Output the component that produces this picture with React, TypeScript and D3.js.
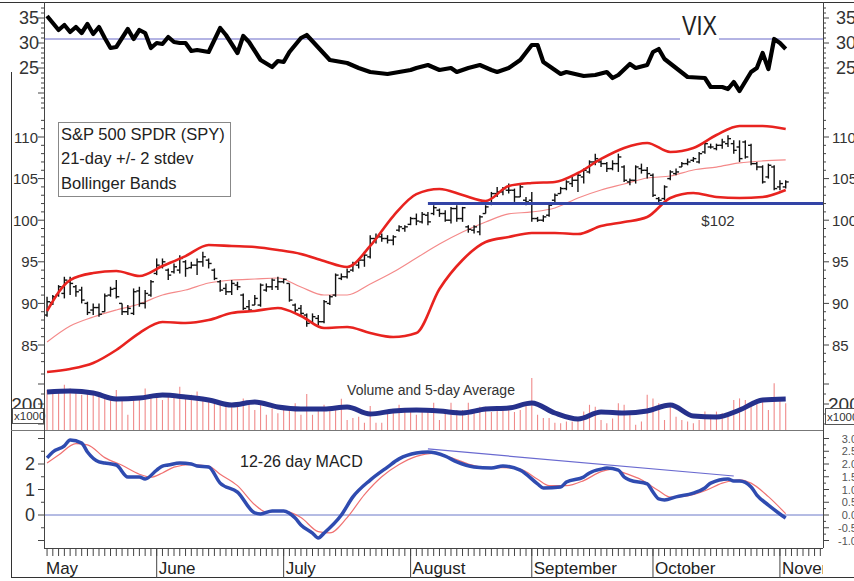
import React from 'react';
import * as d3 from 'd3';

// ---------- DATA ----------
const monthNames = ['May', 'June', 'July', 'August', 'September', 'October', 'November'];
const monthStart = [0, 20, 42, 64, 85, 106, 128];

const spyOpen = [88.6,90.1,91.0,91.2,92.6,92.0,91.6,90.0,89.2,89.5,89.0,91.0,91.8,90.0,89.0,88.8,91.5,90.0,91.0,93.6,94.4,94.0,93.8,94.0,95.0,94.3,94.6,95.0,95.2,94.0,92.6,91.8,91.4,92.2,91.0,89.6,89.8,89.8,91.6,92.0,92.0,92.6,92.4,89.8,89.4,88.6,87.8,88.2,87.8,90.0,91.0,93.0,93.2,94.0,94.6,95.2,95.6,97.8,98.0,97.8,97.6,98.8,99.0,99.5,100.2,99.8,100.6,100.8,101.2,100.8,100.0,101.4,100.2,99.2,98.8,98.6,100.8,102.0,103.2,103.4,103.6,103.6,102.8,102.4,102.4,100.2,100.0,100.6,102.4,103.2,103.8,104.4,104.8,105.2,105.8,107.0,107.0,106.8,106.2,106.8,106.4,104.6,104.8,106.2,106.0,105.4,102.6,102.6,105.0,105.6,106.4,106.8,107.2,107.0,108.2,108.8,108.6,109.0,109.2,109.2,108.8,109.4,109.0,106.8,106.4,105.2,106.4,104.0,104.0];
const spyHigh = [90.8,91.0,92.2,93.2,93.2,92.2,92.0,90.2,90.0,90.0,91.2,92.0,92.8,90.0,89.8,91.8,92.0,91.6,92.8,95.4,95.4,94.2,94.8,95.8,95.2,95.0,95.4,96.2,95.4,94.2,92.8,92.4,92.8,92.6,91.2,90.4,91.0,92.4,92.4,93.0,93.2,93.0,92.4,90.0,89.8,88.8,88.8,88.6,90.4,91.0,93.6,93.6,94.2,95.0,95.4,96.2,98.2,98.4,98.4,98.2,98.2,99.4,99.4,100.4,100.8,101.0,101.0,101.8,101.4,101.2,101.6,101.8,101.6,99.4,99.4,100.6,101.8,103.4,104.0,104.0,104.4,103.8,104.4,102.8,103.4,100.4,100.6,102.0,103.2,104.0,104.8,105.2,105.6,106.2,107.2,108.0,107.2,107.0,107.2,108.0,106.6,105.0,106.6,106.8,106.4,105.6,102.8,104.2,106.0,106.2,107.0,107.4,107.6,108.2,109.4,109.2,109.2,109.8,110.2,109.6,109.6,109.6,109.2,107.0,106.6,106.8,106.6,104.8,104.8];
const spyLow = [88.4,89.8,90.8,90.6,91.0,90.8,90.0,88.6,88.6,88.4,89.0,90.8,90.6,88.6,88.6,88.6,89.6,89.4,90.8,93.4,94.2,92.8,93.6,93.6,93.2,94.2,93.4,94.4,94.2,92.8,91.4,91.0,91.0,91.6,89.2,89.0,89.8,89.6,91.4,91.6,91.6,92.4,90.2,88.8,88.6,87.2,87.6,87.4,87.6,89.8,90.8,92.8,93.0,93.8,94.2,94.4,95.4,97.2,97.4,97.2,97.0,98.6,98.6,99.4,99.4,99.6,99.4,100.6,100.4,99.8,99.6,99.8,99.8,98.5,98.4,98.2,100.8,101.8,102.8,103.0,103.2,102.2,102.8,101.8,99.8,99.8,99.8,100.4,102.2,103.2,103.6,104.0,103.4,104.4,105.6,106.6,106.4,105.8,106.0,105.8,104.6,104.2,104.4,105.6,105.0,102.8,102.0,102.4,104.8,105.4,106.4,106.6,107.0,106.8,108.0,108.6,108.4,108.6,108.8,108.0,107.0,107.4,106.6,106.0,104.4,105.0,103.6,103.6,103.8];
const spyClose = [90.2,90.8,92.0,92.8,92.4,91.4,90.4,88.9,89.5,88.7,90.9,91.7,90.8,89.0,89.4,91.4,90.0,91.2,92.6,94.6,95.0,93.4,94.4,95.4,94.2,94.6,95.0,95.6,94.8,93.0,91.6,91.4,92.4,92.0,89.4,89.2,90.6,92.2,92.0,92.8,92.6,92.9,90.4,89.2,88.8,87.6,88.4,87.8,90.2,90.8,93.4,93.2,93.8,94.8,95.2,95.8,97.8,98.0,97.8,97.6,98.0,99.2,99.2,100.2,99.9,100.7,99.8,101.5,100.8,100.0,101.4,100.2,101.5,98.9,99.2,100.4,101.6,103.2,103.4,103.8,103.6,102.8,104.0,102.2,100.2,100.0,100.4,101.8,103.0,103.8,104.6,104.8,105.4,106.0,107.0,107.4,106.8,106.2,106.8,107.6,104.8,104.8,106.4,106.0,105.6,103.0,102.4,104.0,105.8,105.8,106.8,107.0,107.4,108.0,109.2,108.8,109.0,109.4,109.8,108.4,107.4,107.6,106.8,106.4,104.6,106.6,103.8,104.4,104.6];

const bandDays = [0,4,8,12,16,20,24,28,32,36,40,44,48,52,56,60,64,68,72,76,80,84,88,92,96,100,104,108,112,116,120,124,128];
const upperBand = [89.09,92.81,93.65,93.89,93.29,94.49,95.69,97.02,96.9,96.78,96.42,95.94,95.1,94.38,96.9,100.5,103.13,103.75,103.03,102.31,104.11,104.47,104.59,105.67,107.36,108.68,109.28,108.2,108.68,110.24,111.32,111.32,110.96];
const middleBand = [85.36,87.28,88.37,89.21,89.93,91.01,91.61,92.45,92.81,92.93,93.05,91.97,91.01,91.01,92.33,93.77,95.46,97.14,98.58,99.78,100.75,100.99,101.47,102.67,103.63,104.35,105.07,105.31,106.03,106.39,106.88,107.12,107.24];
const lowerBand = [81.75,82.12,82.84,84.4,86.44,87.76,87.64,88.0,88.85,89.09,89.45,88.49,87.04,87.16,86.44,85.96,86.44,91.73,95.22,97.38,97.98,98.46,98.46,98.34,99.3,99.78,100.38,102.67,103.27,102.79,102.67,102.79,103.63];
const volumeAvg = [230,232.5,227.5,212.5,215,222.5,217.5,210,197.5,205,192.5,187.5,187.5,192.5,175,182.5,185,182.5,177.5,187.5,190,202.5,177.5,162.5,180,177.5,182.5,197.5,170,167.5,185,210,212.5];

const vixDays = [0,1,2,3,4,5,6,7,8,9,10,11,12,14,15,16,17,18,19,20,21,22,23,24,25,26,28,30,31,33,34,35,37,39,40,41,42,44,45,49,52,54,56,59,61,63,64,66,68,70,71,73,75,77,78,80,82,84,85,86,88,89,90,93,95,97,98,99,101,102,104,105,106,107,109,111,114,115,117,118,119,120,122,123,124,125,126,127,128];
const vixValues = [35.4,34.0,32.6,33.6,32.2,33.2,32.0,33.8,31.8,33.2,31.0,29.0,29.2,32.8,30.8,32.6,32.0,29.0,30.0,29.8,31.2,30.2,30.0,30.0,28.4,28.6,28.2,33.0,31.6,28.0,31.4,30.2,26.6,25.2,26.4,26.2,28.2,31.0,31.6,26.6,26.0,25.0,24.2,23.8,24.2,24.6,25.0,25.6,24.6,25.0,24.2,25.0,25.6,24.6,24.2,25.0,26.6,29.6,29.6,26.2,24.6,23.8,24.2,23.4,23.6,24.2,23.0,23.6,25.8,25.0,25.6,28.2,28.8,26.8,25.0,23.2,23.0,21.2,21.2,20.8,22.2,20.4,24.2,25.0,28.0,24.8,30.8,30.0,28.8];

const volume = [235,231,231,248,239,235,223,235,231,227,214,218,235,214,173,214,210,239,218,223,210,227,218,243,214,223,231,218,210,202,206,198,193,202,214,206,185,202,173,189,177,189,193,202,173,225,173,190,198,185,193,213,160,165,168,153,195,153,153,178,185,198,185,180,173,190,190,203,160,178,203,185,185,203,178,193,193,180,190,190,193,180,185,198,265,173,165,165,153,152,156,156,160,181,198,193,160,152,164,202,198,181,148,156,223,214,202,160,193,168,160,156,152,160,181,173,181,177,168,210,214,210,202,206,206,185,252,210,202];

const macdDays = [0,1,3,4,6,7,9,10,12,14,16,17,19,20,21,23,25,26,28,30,33,36,37,39,41,43,44,46,47,48,51,53,56,59,61,64,66,69,71,74,77,79,82,85,86,89,90,93,94,96,97,99,100,101,104,105,106,107,109,112,114,115,118,119,120,122,123,125,127,128];
const macdValues = [2.24,2.47,2.71,2.94,2.82,2.47,2.08,2.04,1.96,1.49,1.49,1.41,1.76,1.92,1.96,2.04,2.0,1.92,1.88,1.25,0.9,0.08,0.04,0.16,0.16,-0.12,-0.39,-0.71,-0.9,-0.71,0.0,0.71,1.37,1.88,2.2,2.43,2.47,2.31,2.08,1.88,1.84,1.92,1.76,1.22,1.06,1.1,1.29,1.49,1.65,1.8,1.84,1.76,1.49,1.37,1.22,0.9,0.63,0.59,0.71,0.86,1.06,1.25,1.41,1.33,1.33,1.1,0.78,0.39,0.04,-0.12];
const signalDays = [0,2,5,7,10,13,16,18,20,22,25,28,30,33,36,38,41,44,47,49,52,55,58,61,64,67,70,73,76,79,82,85,87,90,93,96,98,100,103,106,108,111,114,117,120,122,125,128];
const signalValues = [2.04,2.35,2.8,2.75,2.25,1.95,1.6,1.48,1.65,1.88,1.98,1.92,1.6,1.15,0.4,0.12,0.16,-0.1,-0.65,-0.7,-0.1,0.8,1.5,1.98,2.3,2.42,2.25,2.0,1.86,1.86,1.8,1.4,1.15,1.15,1.35,1.7,1.8,1.65,1.38,0.95,0.7,0.75,0.95,1.25,1.38,1.25,0.72,0.05];

const macdTrendDays = [66, 119];
const macdTrendValues = [2.59, 1.53];
const supportLevel = 102;
const supportStartDay = 66;
const vixReference = 30.8;

const vixTicks = [25, 30, 35];
const priceTicks = [85, 90, 95, 100, 105, 110];
const volumeTicks = [200];
const macdLeftTicks = [0, 1, 2];
const macdRightTicks = [-1, -0.5, 0, 0.5, 1, 1.5, 2, 2.5, 3];

// ---------- LAYOUT ----------
const W = 854;
const H = 581;
const XL = 44;
const XR = 823;
const AXIS_Y = 548;
const VOL_BASE = 430;
const FONT = "'Liberation Sans', Arial, sans-serif";
const AXIS_C = '#444';

export default function App() {
  const x = d3.scaleLinear().domain([0, 128]).range([47.05, 785.7]);
  const yVix = d3.scaleLinear().domain([25, 35]).range([68, 18]);
  const yPrice = d3.scaleLinear().domain([85, 110]).range([345, 137]);
  const yVol = d3.scaleLinear().domain([200, 250]).range([404, 384]);
  const yMacd = d3.scaleLinear().domain([0, 1]).range([515, 489.5]);

  const mkLine = (days: number[], vals: number[], ys: (v: number) => number, curve: d3.CurveFactory) =>
    d3.line<number>().x((_, i) => x(days[i])).y((v) => ys(v)).curve(curve)(vals) || '';

  const dayTicks = d3.range(0, 135);
  const vixMinor = d3.range(17, 38);
  const priceMinor = d3.range(83, 113);
  const volMinor = d3.range(150, 276, 25);
  const macdMinorL = d3.range(-1, 3.01, 0.5);
  const macdMinorR = d3.range(-1, 3.01, 0.25);

  const leftTick = (y: number, major: boolean, k: string) => (
    <line key={k} x1={XL - (major ? 6 : 3)} x2={XL} y1={y} y2={y} stroke={AXIS_C} strokeWidth={1} />
  );
  const rightTick = (y: number, major: boolean, k: string) => (
    <line key={k} x1={XR} x2={XR + (major ? 6 : 3)} y1={y} y2={y} stroke={AXIS_C} strokeWidth={1} />
  );

  return (
    <svg width={W} height={H} style={{ position: 'absolute', left: 0, top: 0, background: '#fff' }} fontFamily={FONT}>
      <defs>
        <clipPath id="plot">
          <rect x={XL} y={0} width={XR - XL} height={AXIS_Y} />
        </clipPath>
        <clipPath id="axisArea">
          <rect x={XL} y={AXIS_Y} width={XR - XL} height={H - AXIS_Y} />
        </clipPath>
      </defs>
      <rect x={0} y={0} width={W} height={H} fill="#fff" />

      {/* outer frame */}
      <line x1={0} x2={W} y1={2.5} y2={2.5} stroke="#333" strokeWidth={1} />
      <line x1={11.5} x2={11.5} y1={72} y2={577.5} stroke="#333" strokeWidth={1} />
      <line x1={11} x2={W} y1={577.5} y2={577.5} stroke="#333" strokeWidth={1} />
      <line x1={11} x2={XR} y1={VOL_BASE + 0.5} y2={VOL_BASE + 0.5} stroke="#777" strokeWidth={1} />

      {/* VIX reference line */}
      <line x1={XL} x2={680} y1={yVix(vixReference)} y2={yVix(vixReference)} stroke="#6868c8" strokeWidth={1} />
      <line x1={719} x2={XR} y1={yVix(vixReference)} y2={yVix(vixReference)} stroke="#6868c8" strokeWidth={1} />
      <text x={682} y={35} fontSize={27} fill="#222" textLength={35} lengthAdjust="spacingAndGlyphs">VIX</text>

      <g clipPath="url(#plot)">
        {/* VIX */}
        <path d={mkLine(vixDays, vixValues, yVix, d3.curveLinear)} fill="none" stroke="#000" strokeWidth={4.2} strokeLinejoin="round" />

        {/* Bollinger middle */}
        <path d={mkLine(bandDays, middleBand, yPrice, d3.curveMonotoneX)} fill="none" stroke="#f48a8a" strokeWidth={1.2} />

        {/* price bars */}
        {spyHigh.map((h, i) => {
          const cx = x(i);
          return (
            <g key={'b' + i} stroke="#111" strokeWidth={1.4}>
              <line x1={cx} x2={cx} y1={yPrice(h)} y2={yPrice(spyLow[i])} />
              <line x1={cx - 3} x2={cx} y1={yPrice(spyOpen[i])} y2={yPrice(spyOpen[i])} />
              <line x1={cx} x2={cx + 3} y1={yPrice(spyClose[i])} y2={yPrice(spyClose[i])} />
            </g>
          );
        })}

        {/* Bollinger bands */}
        <path d={mkLine(bandDays, upperBand, yPrice, d3.curveMonotoneX)} fill="none" stroke="#e8231f" strokeWidth={2.6} />
        <path d={mkLine(bandDays, lowerBand, yPrice, d3.curveMonotoneX)} fill="none" stroke="#e8231f" strokeWidth={2.6} />

        {/* support line */}
        <line x1={x(supportStartDay)} x2={XR} y1={yPrice(supportLevel)} y2={yPrice(supportLevel)} stroke="#3344a6" strokeWidth={3} />

        {/* volume */}
        {volume.map((v, i) => (
          <line key={'v' + i} x1={x(i)} x2={x(i)} y1={VOL_BASE} y2={yVol(v)} stroke="#f08a8a" strokeWidth={1.1} />
        ))}
        <path d={mkLine(bandDays, volumeAvg, yVol, d3.curveMonotoneX)} fill="none" stroke="#26318c" strokeWidth={5} strokeLinejoin="round" />

        {/* MACD */}
        <line x1={XL} x2={XR} y1={yMacd(0)} y2={yMacd(0)} stroke="#6a78c8" strokeWidth={1} />
        <path d={mkLine(macdTrendDays, macdTrendValues, yMacd, d3.curveLinear)} fill="none" stroke="#6a6ad0" strokeWidth={1.2} />
        <path d={mkLine(signalDays, signalValues, yMacd, d3.curveMonotoneX)} fill="none" stroke="#f07272" strokeWidth={1.2} />
        <path d={mkLine(macdDays, macdValues, yMacd, d3.curveMonotoneX)} fill="none" stroke="#2f4bb0" strokeWidth={3.5} strokeLinejoin="round" />
      </g>

      {/* texts in plot */}
      <text x={718} y={226} fontSize={15} fill="#333" textAnchor="middle">${supportLevel}</text>
      <text x={431} y={395} fontSize={14} fill="#333" textAnchor="middle">Volume and 5-day Average</text>
      <text x={240} y={467} fontSize={16} fill="#222">12-26 day MACD</text>

      {/* legend */}
      <rect x={58.5} y={122.5} width={172} height={74} fill="#fff" stroke="#888" strokeWidth={1} />
      <text x={61} y={140} fontSize={16.5} fill="#222">S&amp;P 500 SPDR (SPY)</text>
      <text x={61} y={164} fontSize={16.5} fill="#222">21-day +/- 2 stdev</text>
      <text x={61} y={189} fontSize={16.5} fill="#222">Bollinger Bands</text>

      {/* axes lines */}
      <line x1={XL + 0.5} x2={XL + 0.5} y1={2} y2={AXIS_Y} stroke={AXIS_C} strokeWidth={1} />
      <line x1={XR + 0.5} x2={XR + 0.5} y1={2} y2={AXIS_Y} stroke={AXIS_C} strokeWidth={1} />
      <line x1={XL} x2={XR} y1={AXIS_Y + 0.5} y2={AXIS_Y + 0.5} stroke={AXIS_C} strokeWidth={1} />

      {/* left & right ticks */}
      {vixMinor.map((v) => leftTick(yVix(v), v % 5 === 0, 'lv' + v))}
      {vixMinor.map((v) => rightTick(yVix(v), v % 5 === 0, 'rv' + v))}
      {priceMinor.map((v) => leftTick(yPrice(v), v % 5 === 0, 'lp' + v))}
      {priceMinor.map((v) => rightTick(yPrice(v), v % 5 === 0, 'rp' + v))}
      {volMinor.map((v) => leftTick(yVol(v), v % 50 === 0, 'lo' + v))}
      {volMinor.map((v) => rightTick(yVol(v), v % 50 === 0, 'ro' + v))}
      {macdMinorL.map((v) => leftTick(yMacd(v), Math.abs(v % 1) < 1e-9, 'lm' + v))}
      {macdMinorR.map((v) => rightTick(yMacd(v), Math.abs(v % 0.5) < 1e-9, 'rm' + v))}

      {/* tick labels */}
      {vixTicks.map((v) => (
        <g key={'vt' + v} fontSize={18} fill="#333">
          <text x={39} y={yVix(v)} textAnchor="end" dominantBaseline="central">{v}</text>
          <text x={836} y={yVix(v)} dominantBaseline="central">{v}</text>
        </g>
      ))}
      {priceTicks.map((v) => (
        <g key={'pt' + v} fontSize={15} fill="#333">
          <text x={38} y={yPrice(v)} textAnchor="end" dominantBaseline="central">{v}</text>
          <text x={832} y={yPrice(v)} dominantBaseline="central">{v}</text>
        </g>
      ))}
      {volumeTicks.map((v) => (
        <g key={'ot' + v} fontSize={19} fill="#333">
          <text x={43} y={yVol(v)} textAnchor="end" dominantBaseline="central">{v}</text>
          <text x={828} y={yVol(v)} dominantBaseline="central">{v}</text>
        </g>
      ))}
      <rect x={12.5} y={408.5} width={31} height={15} fill="#fff" stroke="#555" strokeWidth={1} />
      <text x={14} y={420} fontSize={11.5} fill="#333">x1000</text>
      <rect x={825.5} y={408.5} width={40} height={16} fill="#fff" stroke="#555" strokeWidth={1} />
      <text x={827} y={421} fontSize={11.5} fill="#333">x1000</text>

      {macdLeftTicks.map((v) => (
        <text key={'ml' + v} x={35} y={yMacd(v)} fontSize={18} fill="#333" textAnchor="end" dominantBaseline="central">{v}</text>
      ))}
      {macdRightTicks.map((v) => (
        <text key={'mr' + v} x={857} y={yMacd(v)} fontSize={11} fill="#555" textAnchor="end" dominantBaseline="central">{v.toFixed(1)}</text>
      ))}

      {/* x axis */}
      {dayTicks.map((d) => (
        <line key={'dt' + d} x1={x(d)} x2={x(d)} y1={AXIS_Y} y2={AXIS_Y + 8} stroke={AXIS_C} strokeWidth={1} />
      ))}
      <g clipPath="url(#axisArea)">
        {monthStart.map((s, k) => {
          const sep = k === 0 ? XL : x(s - 1);
          return (
            <g key={'m' + k}>
              {k > 0 && <line x1={sep} x2={sep} y1={AXIS_Y} y2={578} stroke={AXIS_C} strokeWidth={1} />}
              <text x={sep + 2} y={574} fontSize={17} fill="#222">{monthNames[k]}</text>
            </g>
          );
        })}
      </g>
    </svg>
  );
}
